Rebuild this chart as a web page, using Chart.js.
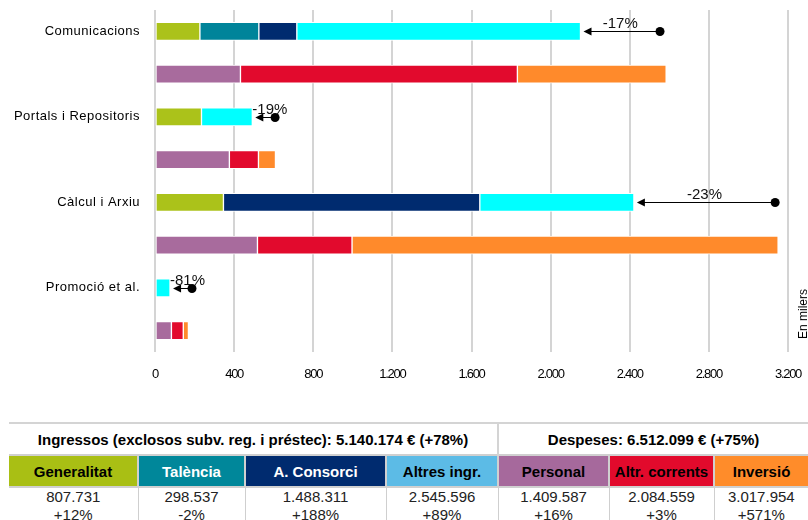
<!DOCTYPE html>
<html>
<head>
<meta charset="utf-8">
<script src="https://cdn.jsdelivr.net/npm/chart.js@4"></script>
<style>
  html, body { margin: 0; padding: 0; background: #fff; }
  body { width: 808px; height: 520px; position: relative; overflow: hidden; font-family: "Liberation Sans", Arial, sans-serif; }
  #chartBox { position: absolute; left: 0; top: 0; width: 808px; height: 415px; }
  #units { position: absolute; left: 777px; top: 306px; width: 52px; font-size: 12px; color: #000; transform: rotate(-90deg); white-space: nowrap; }
  #summary { position: absolute; left: 9px; top: 422px; width: 799px; border-collapse: collapse; table-layout: fixed; }
  #summary td { text-align: center; padding: 0; border: 1px solid #cfcfcf; }
  #summary tr.head td { height: 30px; font-weight: bold; font-size: 15px; border-top: 2px solid #d4d4d4; border-left: none; border-right: none; }
  #summary tr.head td.right { border-left: 2px solid #d4d4d4; }
  #summary tr.names td { height: 30px; font-weight: bold; font-size: 15px; border: 2px solid #d0d0d0; }
  #summary tr.values td { font-size: 15px; line-height: 18px; padding-top: 0; vertical-align: top; height: 36px; color: #222; }
  #summary tr td:first-child { border-left: none; }
  #summary tr td:last-child { border-right: none; }
</style>
</head>
<body>
<div id="chartBox"><canvas id="chart"></canvas></div>
<div id="units">En milers</div>
<table id="summary"></table>
<script>
// Categories (each one has an income row and an expense row)
var categories = ['Comunicacions', 'Portals i Repositoris', 'Càlcul i Arxiu', 'Promoció et al.'];

// Income (en milers)
var generalitat = [227, 235, 346, 0];
var talencia = [298, 0, 0, 0];
var consorci = [192, 0, 1296, 0];
var altresIngr = [1434, 257, 779, 76];

// Expenses (en milers)
var personal = [432, 376, 518, 83];
var altrCorrents = [1400, 147, 478, 60];
var inversio = [752, 86, 2154, 26];

// Previous income reference and change labels
var previousIncome = [2553, 607, 3135, 187];
var changeLabels = ['-17%', '-19%', '-23%', '-81%'];

// Axis ticks
var xTicks = [0, 400, 800, 1200, 1600, 2000, 2400, 2800, 3200];

// Summary table
var incomeTitle = 'Ingressos (exclosos subv. reg. i préstec): 5.140.174 € (+78%)';
var expenseTitle = 'Despeses: 6.512.099 € (+75%)';
var tableNames = ['Generalitat', 'Talència', 'A. Consorci', 'Altres ingr.', 'Personal', 'Altr. corrents', 'Inversió'];
var tableValues = ['807.731', '298.537', '1.488.311', '2.545.596', '1.409.587', '2.084.559', '3.017.954'];
var tableChanges = ['+12%', '-2%', '+188%', '+89%', '+16%', '+3%', '+571%'];

var chartColors = ['#abc21a', '#00849a', '#002b6f', '#00ffff', '#a86b9d', '#e20a2d', '#ff8a2b'];
var headerColors = ['#a9bf14', '#00879a', '#002b6f', '#5cbbe6', '#a6699c', '#e20a2c', '#ff8c2a'];
var headerText = ['#000', '#fff', '#fff', '#000', '#000', '#000', '#000'];
var colWidths = [129, 107, 141, 112, 111, 105, 94];

function rowLabels() {
    var out = [];
    categories.forEach(function(c) { out.push(c); out.push(''); });
    return out;
}

// income values go on even rows, expenses on odd rows
function interleave(values, isIncome) {
    var out = [];
    values.forEach(function(v) {
        var val = v > 0 ? v : null;
        if (isIncome) { out.push(val); out.push(null); }
        else { out.push(null); out.push(val); }
    });
    return out;
}

function thousands(v) {
    return String(v).replace(/\B(?=(\d{3})+(?!\d))/g, '.');
}

var series = [
    { name: 'Generalitat', values: generalitat, income: true },
    { name: 'Talència', values: talencia, income: true },
    { name: 'A. Consorci', values: consorci, income: true },
    { name: 'Altres ingr.', values: altresIngr, income: true },
    { name: 'Personal', values: personal, income: false },
    { name: 'Altr. corrents', values: altrCorrents, income: false },
    { name: 'Inversió', values: inversio, income: false }
];

var datasets = series.map(function(s, i) {
    return {
        label: s.name,
        data: interleave(s.values, s.income),
        backgroundColor: chartColors[i],
        borderColor: '#ffffff',
        borderWidth: 1,
        borderSkipped: false,
        barThickness: 18
    };
});

// arrows from last year's income to this year's
var changeArrows = {
    id: 'changeArrows',
    beforeDraw: function(chart) {
        chart.ctx.letterSpacing = '0.5px';
    },
    afterDatasetsDraw: function(chart) {
        var ctx = chart.ctx;
        var xs = chart.scales.x, ys = chart.scales.y;
        ctx.save();
        ctx.letterSpacing = '0px';
        categories.forEach(function(c, i) {
            var total = generalitat[i] + talencia[i] + consorci[i] + altresIngr[i];
            var barEnd = xs.getPixelForValue(total);
            var tip = barEnd + 3;
            var ref = xs.getPixelForValue(previousIncome[i]);
            var y = Math.round(ys.getPixelForValue(i * 2)) + 0.5;

            ctx.strokeStyle = '#000';
            ctx.fillStyle = '#000';
            ctx.lineWidth = 1;
            ctx.beginPath();
            ctx.moveTo(ref, y);
            ctx.lineTo(tip + 6, y);
            ctx.stroke();

            ctx.beginPath();
            ctx.moveTo(tip, y);
            ctx.lineTo(tip + 8, y - 4);
            ctx.lineTo(tip + 8, y + 4);
            ctx.closePath();
            ctx.fill();

            ctx.beginPath();
            ctx.arc(ref, y, 4.5, 0, Math.PI * 2);
            ctx.fill();

            ctx.font = '15px "Liberation Sans", Arial, sans-serif';
            ctx.textAlign = 'center';
            ctx.textBaseline = 'alphabetic';
            var w = ctx.measureText(changeLabels[i]).width;
            var cx = Math.max((barEnd + ref) / 2, barEnd + w / 2);
            ctx.fillStyle = '#111';
            ctx.fillText(changeLabels[i], cx, y - 4);
        });
        ctx.restore();
        // x tick labels are drawn after this, a bit condensed
        ctx.letterSpacing = '-1.3px';
    }
};

new Chart(document.getElementById('chart').getContext('2d'), {
    type: 'bar',
    data: { labels: rowLabels(), datasets: datasets },
    options: {
        indexAxis: 'y',
        responsive: true,
        maintainAspectRatio: false,
        animation: false,
        layout: { padding: { top: 10, right: 20, left: 0, bottom: 0 } },
        plugins: {
            legend: { display: false },
            tooltip: { enabled: false }
        },
        scales: {
            x: {
                stacked: true,
                min: 0,
                max: 3200,
                afterBuildTicks: function(scale) {
                    scale.ticks = xTicks.map(function(v) { return { value: v }; });
                },
                afterFit: function(scale) {
                    scale.height = 63;
                    scale.paddingLeft = 0;
                    scale.paddingRight = 0;
                },
                grid: { color: '#d4d4d4', lineWidth: 2, drawTicks: false },
                border: { display: false },
                ticks: {
                    z: 1,
                    padding: 15,
                    color: '#000',
                    font: { family: '"Liberation Sans", Arial', size: 13 },
                    callback: function(v) { return thousands(v); }
                }
            },
            y: {
                stacked: true,
                afterFit: function(scale) {
                    scale.width = 155;
                    scale.paddingTop = 0;
                    scale.paddingBottom = 0;
                },
                grid: { display: false, drawTicks: false },
                border: { display: false },
                ticks: {
                    padding: 15,
                    color: '#000',
                    autoSkip: false,
                    font: { family: '"Liberation Sans", Arial', size: 13 }
                }
            }
        }
    },
    plugins: [changeArrows]
});

// summary table under the chart
var table = document.getElementById('summary');
var cols = '<colgroup>' + colWidths.map(function(w) { return '<col style="width:' + w + 'px">'; }).join('') + '</colgroup>';
var head = '<tr class="head"><td colspan="4">' + incomeTitle + '</td><td colspan="3" class="right">' + expenseTitle + '</td></tr>';
var names = '<tr class="names">' + tableNames.map(function(n, i) {
    return '<td style="background:' + headerColors[i] + ';color:' + headerText[i] + '">' + n + '</td>';
}).join('') + '</tr>';
var vals = '<tr class="values">' + tableValues.map(function(v, i) {
    return '<td>' + v + '<br>' + tableChanges[i] + '</td>';
}).join('') + '</tr>';
table.innerHTML = cols + head + names + vals;
</script>
</body>
</html>
